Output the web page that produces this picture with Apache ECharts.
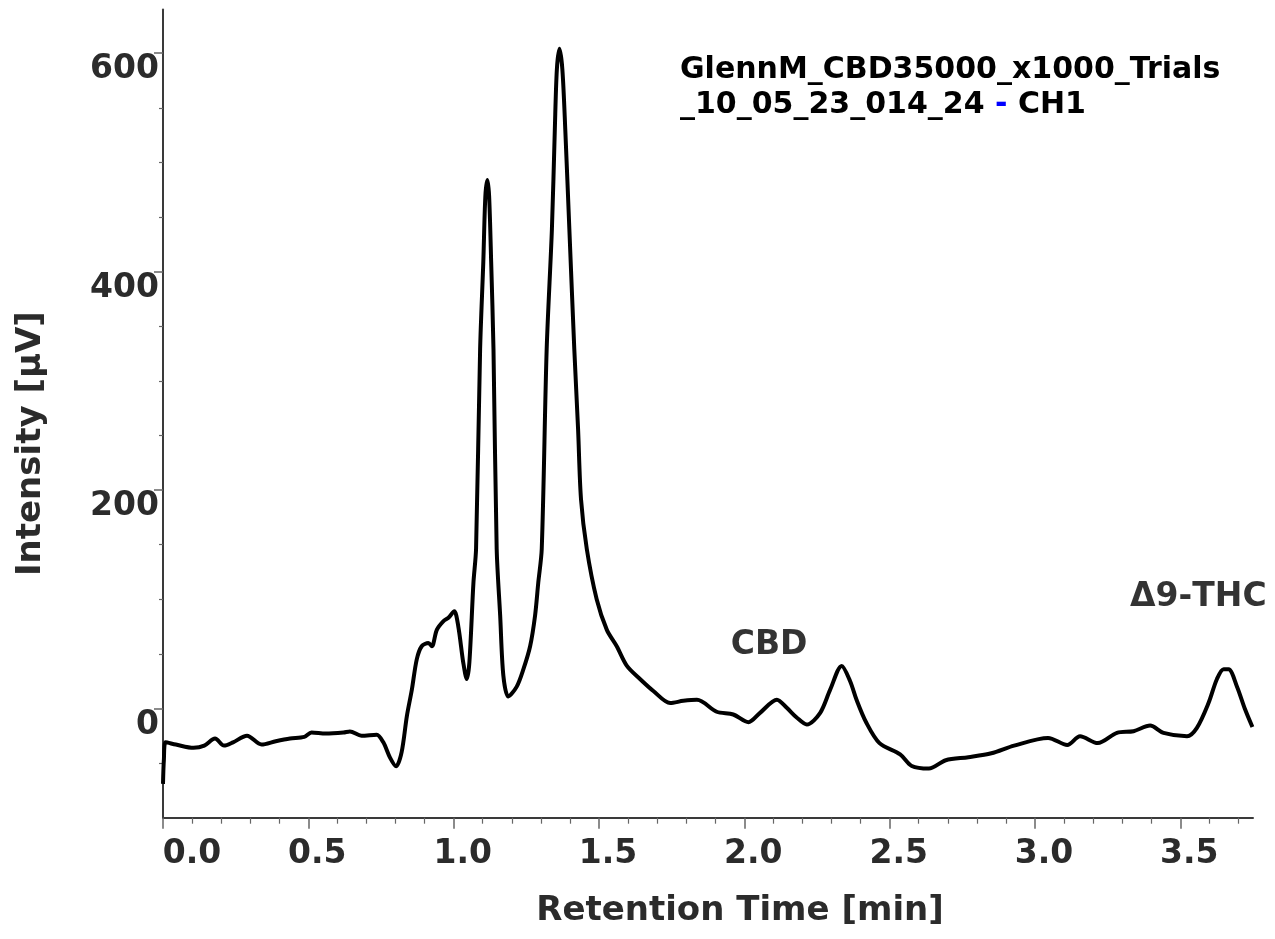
<!DOCTYPE html>
<html>
<head>
<meta charset="utf-8">
<title>CH1 chromatogram</title>
<script src="https://cdn.jsdelivr.net/npm/echarts@6/dist/echarts.min.js"></script>
<style>
html, body { margin: 0; padding: 0; background: #fff; }
#chart { width: 1275px; height: 939px; }
</style>
</head>
<body>
<div id="chart"></div>
<script>
// retention time [min] and detector signal [µV]
const timeMin = [
  0, 0.003, 0.009, 0.044, 0.105, 0.142, 0.179, 0.210, 0.241, 0.289,
  0.339, 0.388, 0.437, 0.486, 0.511, 0.560, 0.621, 0.643, 0.683, 0.735,
  0.758, 0.781, 0.802, 0.821, 0.839, 0.856, 0.873, 0.890, 0.913, 0.925,
  0.942, 0.965, 0.982, 1.002, 1.016, 1.033, 1.045, 1.054, 1.068, 1.077,
  1.091, 1.102, 1.109, 1.116, 1.122, 1.129, 1.137, 1.148, 1.160, 1.171,
  1.188, 1.217, 1.240, 1.263, 1.280, 1.291, 1.303, 1.320, 1.338, 1.348,
  1.355, 1.364, 1.374, 1.384, 1.398, 1.415, 1.428, 1.438, 1.458, 1.492,
  1.527, 1.561, 1.596, 1.641, 1.687, 1.745, 1.790, 1.837, 1.905, 1.962,
  2.014, 2.054, 2.112, 2.146, 2.181, 2.215, 2.261, 2.295, 2.335, 2.364,
  2.386, 2.419, 2.465, 2.536, 2.576, 2.635, 2.693, 2.771, 2.850, 2.928,
  3.045, 3.111, 3.155, 3.216, 3.282, 3.339, 3.396, 3.442, 3.523, 3.557,
  3.597, 3.626, 3.649, 3.666, 3.695, 3.723, 3.748
]
const intensity = [
  -69, -47, -31, -33, -36, -34, -27.5, -34, -31, -25,
  -33, -30, -27.5, -26, -22, -23, -22, -21, -25, -24,
  -31, -45, -53, -40, -7, 17, 45, 57, 60, 57,
  72, 80, 83, 89, 75, 42, 27, 42, 115, 146,
  329, 409, 469, 484, 469, 409, 329, 146, 85, 30,
  11, 20, 36, 57, 85, 115, 146, 329, 439, 530,
  585, 604, 585, 530, 439, 329, 256, 192, 146, 100,
  72, 57, 39, 27, 16, 5, 7, 8, -3, -5.5,
  -12.6, -4, 8, 0.6, -8.5, -14.7, -4, 17, 39, 25,
  8, -12.6, -31.7, -42, -52.6, -55, -47.4, -44.6, -41, -34,
  -27, -33.4, -25.4, -31.7, -22.3, -20.8, -15.6, -22.3, -25.4, -17.7,
  5, 27, 36, 36, 20, -1, -17
]

// peak annotations
const peakNames = ['CBD', 'Δ9-THC']
const peakLabelTime = [2.085, 3.562]
const peakLabelLevel = [58, 102]

// ticks
const xMajor = [0, 0.5, 1.0, 1.5, 2.0, 2.5, 3.0, 3.5]
const xMinor = [0.1, 0.2, 0.3, 0.4, 0.6, 0.7, 0.8, 0.9, 1.1, 1.2, 1.3, 1.4,
  1.6, 1.7, 1.8, 1.9, 2.1, 2.2, 2.3, 2.4, 2.6, 2.7, 2.8, 2.9,
  3.1, 3.2, 3.3, 3.4, 3.6, 3.7]
const yMajor = [0, 200, 400, 600]
const yMinor = [-50, 50, 100, 150, 250, 300, 350, 450, 500, 550]

const fontName = 'DejaVu Sans'
const textColor = '#2b2b2b'
const tickFont = { fontFamily: fontName, fontWeight: 'bold', fontSize: 33, color: textColor }

const myChart = echarts.init(document.getElementById('chart'))

const trace = timeMin.map((t, i) => [t, intensity[i]])
const labelPoints = peakNames.map((n, i) => ({ name: n, value: [peakLabelTime[i], peakLabelLevel[i]] }))

myChart.setOption({
  animation: false,
  backgroundColor: '#fff',
  textStyle: { fontFamily: fontName },
  title: {
    left: 675,
    top: 48,
    text: '{a|GlennM_CBD35000_x1000_Trials}\n{a|_10_05_23_014_24 }{b|-}{a| CH1}',
    textStyle: {
      rich: {
        a: { fontFamily: fontName, fontWeight: 'bold', fontSize: 30, color: '#000', lineHeight: 35 },
        b: { fontFamily: fontName, fontWeight: 'bold', fontSize: 30, color: '#0000ff', lineHeight: 35 }
      }
    }
  },
  grid: { left: 163, right: 22, top: 9.5, bottom: 121.3, containLabel: false, outerBoundsMode: 'none' },
  xAxis: [
    {
      type: 'value', min: 0, max: 3.75, interval: 0.5,
      position: 'bottom',
      name: 'Retention Time [min]',
      nameLocation: 'middle',
      nameGap: 76,
      nameTextStyle: { fontFamily: fontName, fontWeight: 'bold', fontSize: 34, color: textColor, padding: [0, 0, 0, 64] },
      axisLine: { show: true, onZero: false, lineStyle: { color: '#3a3a3a', width: 2 } },
      axisTick: { show: true, customValues: xMajor, length: 11, lineStyle: { color: '#666', width: 1.5 } },
      axisLabel: {
        customValues: xMajor,
        // labels sit a little right of their tick, the first one starts at the axis
        formatter: v => (v === 0 ? '{f|' : '{n|') + v.toFixed(1) + '}',
        margin: 20,
        rich: {
          f: Object.assign({ padding: [0, 0, 0, 58] }, tickFont),
          n: Object.assign({ padding: [0, 0, 0, 18] }, tickFont)
        }
      },
      splitLine: { show: false }
    },
    {
      type: 'value', min: 0, max: 3.75,
      position: 'bottom',
      axisLine: { show: false, onZero: false },
      axisTick: { show: true, customValues: xMinor, length: 6, lineStyle: { color: '#666', width: 1.2 } },
      axisLabel: { show: false },
      splitLine: { show: false }
    }
  ],
  yAxis: [
    {
      type: 'value', min: -100, max: 640, interval: 50,
      position: 'left',
      name: 'Intensity [µV]',
      nameLocation: 'middle',
      nameGap: 115,
      nameRotate: 90,
      nameTextStyle: { fontFamily: fontName, fontWeight: 'bold', fontSize: 34, color: textColor, padding: [0, 60, 0, 0] },
      axisLine: { show: true, onZero: false, lineStyle: { color: '#3a3a3a', width: 2 } },
      axisTick: { show: true, customValues: yMajor, length: 9, lineStyle: { color: '#666', width: 1.5 } },
      axisLabel: Object.assign({
        customValues: yMajor,
        margin: 4,
        verticalAlign: 'top'
      }, tickFont),
      splitLine: { show: false }
    },
    {
      type: 'value', min: -100, max: 640, interval: 50,
      position: 'left',
      axisLine: { show: false, onZero: false },
      axisTick: { show: true, customValues: yMinor, length: 4, lineStyle: { color: '#666', width: 1.2 } },
      axisLabel: { show: false },
      splitLine: { show: false }
    }
  ],
  series: [
    {
      name: 'CH1',
      type: 'line',
      data: trace,
      showSymbol: false,
      smooth: 0.3,
      lineStyle: { color: '#000', width: 4 },
      silent: true
    },
    {
      name: 'peaks',
      type: 'scatter',
      data: labelPoints,
      symbolSize: 2,
      itemStyle: { color: 'rgba(255,255,255,0)' },
      silent: true,
      z: 5,
      label: {
        show: true,
        position: 'inside',
        formatter: p => p.name,
        fontFamily: fontName, fontWeight: 'bold', fontSize: 33, color: '#000',
        textBorderWidth: 0
      }
    }
  ]
})

window.onresize = function () {
  myChart.resize()
}
</script>
</body>
</html>
